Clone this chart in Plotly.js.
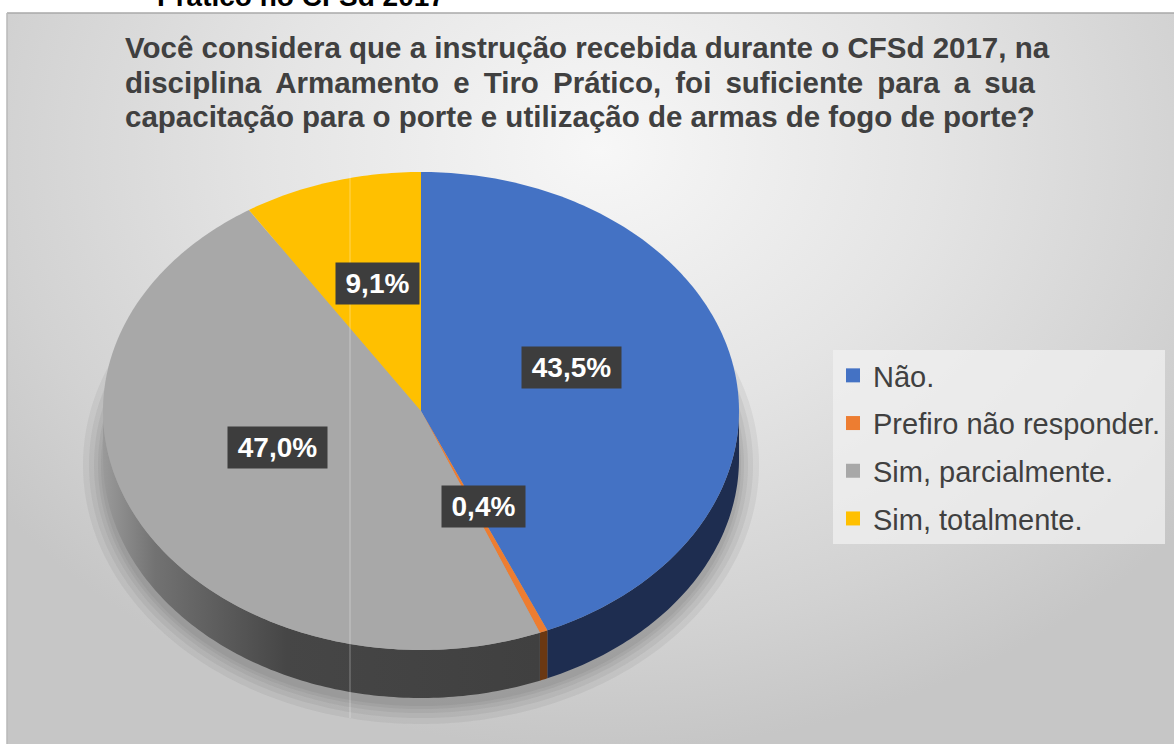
<!DOCTYPE html>
<html><head><meta charset="utf-8">
<script src="https://cdn.plot.ly/plotly-3.0.1.min.js"></script>
<style>html,body{margin:0;padding:0;background:#fff;}#chart{width:1174px;height:744px;}</style>
</head><body><div id="chart"></div>
<script>
// ---- data ----
const categories = ['Não.', 'Prefiro não responder.', 'Sim, parcialmente.', 'Sim, totalmente.'];
const values = [43.5, 0.4, 47.0, 9.1];
const valueLabels = ['43,5%', '0,4%', '47,0%', '9,1%'];
const titleLines = [
  'Você considera que a instrução recebida durante o CFSd 2017, na',
  'disciplina Armamento e Tiro Prático, foi suficiente para a sua',
  'capacitação para o porte e utilização de armas de fogo de porte?'
];
const cutText = 'Prático no CFSd 2017';

// ---- styles / layout ----
const topColors = ['#4472c4', '#ed7d31', '#a8a8a8', '#ffc000'];
const sideColors = ['#1e2d50', '#6b3812', '#454545', '#7a5c00'];
const labelPos = [[571, 367], [483, 506], [277, 447], [377, 283]];
const W = 1174, H = 744, ML = 7, MT = 13;
const CX = 421, CY = 411, RX = 318, RY = 239, DEPTH = 48;

function pt(th, dy, ex) {
  ex = ex || 0;
  return [CX + (RX + ex) * Math.sin(th), CY - (RY + ex) * Math.cos(th) + (dy || 0)];
}
function arc(a, b, dy, ex) {
  const n = Math.max(4, Math.ceil((b - a) / (Math.PI * 2) * 400));
  const xs = [], ys = [];
  for (let i = 0; i <= n; i++) {
    const p = pt(a + (b - a) * i / n, dy, ex);
    xs.push(p[0]); ys.push(p[1]);
  }
  return [xs, ys];
}

const total = values.reduce((s, v) => s + v, 0);
const angles = [];
let acc = 0;
values.forEach(v => { const a = acc / total * 2 * Math.PI; acc += v; angles.push([a, acc / total * 2 * Math.PI]); });

const traces = [];
// background gradient
traces.push({
  type: 'scatter', mode: 'none', fill: 'toself',
  x: [-150, 1350, 1350, -150, -150], y: [-450, -450, 750, 750, -450],
  fillgradient: { type: 'radial', colorscale: [[0, '#f7f7f7'], [0.45, '#e4e4e4'], [0.8, '#d2d2d2'], [1, '#c6c6c6']] },
  hoverinfo: 'skip', showlegend: false
});
// soft shadow
[20, 14, 9, 5, 2].forEach(ex => {
  const a = arc(0, 2 * Math.PI, DEPTH + 6, ex);
  traces.push({ type: 'scatter', mode: 'none', fill: 'toself', x: a[0], y: a[1],
    fillcolor: 'rgba(60,60,60,0.07)', hoverinfo: 'skip', showlegend: false });
});
// side faces
angles.forEach((ab, i) => {
  const lo = Math.max(ab[0], Math.PI / 2), hi = Math.min(ab[1], 3 * Math.PI / 2);
  if (lo >= hi) return;
  const t = arc(lo, hi, 0), b = arc(lo, hi, DEPTH);
  const xs = t[0].concat(b[0].slice().reverse()), ys = t[1].concat(b[1].slice().reverse());
  xs.push(xs[0]); ys.push(ys[0]);
  const tr = { type: 'scatter', mode: 'none', fill: 'toself', x: xs, y: ys,
    fillcolor: sideColors[i], hoverinfo: 'skip', showlegend: false };
  if (i === 2) tr.fillgradient = { type: 'horizontal',
    colorscale: [[0, '#9a9a9a'], [0.12, '#727272'], [0.42, '#464646'], [1, '#404040']] };
  traces.push(tr);
});
// top faces
angles.forEach((ab, i) => {
  const a = arc(ab[0], ab[1], 0);
  const xs = [CX].concat(a[0], [CX]), ys = [CY].concat(a[1], [CY]);
  traces.push({ type: 'scatter', mode: 'none', fill: 'toself', x: xs, y: ys,
    fillcolor: topColors[i], hoverinfo: 'skip', showlegend: false, name: categories[i] });
});
// legend entries
categories.forEach((c, i) => {
  traces.push({ type: 'scatter', mode: 'markers', x: [-1000], y: [-1000], name: c,
    legendgroup: 'g' + i,
    marker: { symbol: 'square', size: 14, color: topColors[i] }, hoverinfo: 'skip' });
});

const annotations = [];
annotations.push({ xref: 'x', yref: 'paper', x: 155, y: 1 + (MT - 14) / (H - MT), xanchor: 'left', yanchor: 'bottom',
  text: '<b>' + cutText + '</b>', showarrow: false,
  font: { family: 'Liberation Sans, Arial, sans-serif', size: 28, color: '#000' } });
const titleY = [47, 82, 116];
const pads = ['', '\u2009', ''];
titleLines.forEach((l, i) => {
  let txt = l;
  if (pads[i]) txt = l.split(' ').join(' ' + pads[i]);
  annotations.push({ xref: 'x', yref: 'y', x: 123, y: titleY[i], xanchor: 'left', yanchor: 'middle',
    text: '<b>' + txt + '</b>', showarrow: false,
    font: { family: 'Liberation Sans, Arial, sans-serif', size: 29.5, color: '#404040' } });
});
valueLabels.forEach((t, i) => {
  annotations.push({ xref: 'x', yref: 'y', x: labelPos[i][0], y: labelPos[i][1],
    xanchor: 'center', yanchor: 'middle', text: '<b>' + t + '</b>', showarrow: false,
    bgcolor: '#3d3d3d', borderpad: 2, width: t.length > 4 ? 95 : 79, height: 37,
    font: { family: 'Liberation Sans, Arial, sans-serif', size: 28, color: '#ffffff' } });
});

const layout = {
  width: W, height: H, autosize: false,
  margin: { l: ML, t: MT, r: 0, b: 0, pad: 0 },
  paper_bgcolor: '#ffffff', plot_bgcolor: 'rgba(0,0,0,0)',
  xaxis: { range: [ML, W], visible: false, fixedrange: true },
  yaxis: { range: [H, MT], visible: false, fixedrange: true },
  showlegend: true,
  legend: {
    x: (833 - ML) / (W - ML), y: 1 - (350 - MT) / (H - MT), xanchor: 'left', yanchor: 'top',
    bgcolor: 'rgba(240,240,240,0.75)', borderwidth: 0, traceorder: 'grouped', tracegroupgap: 7,
    font: { family: 'Liberation Sans, Arial, sans-serif', size: 29, color: '#404040' }
  },
  annotations: annotations,
  shapes: [
    { type: 'line', xref: 'paper', yref: 'paper', x0: 0, x1: 1, y0: 1, y1: 1, line: { color: '#a8a8a8', width: 1.5 } },
    { type: 'line', xref: 'paper', yref: 'paper', x0: 0, x1: 0, y0: 0, y1: 1, line: { color: '#b8b8b8', width: 1.5 } },
    { type: 'line', xref: 'x', yref: 'y', x0: 350, x1: 350, y0: 172, y1: 718, layer: 'above',
      line: { color: 'rgba(255,255,255,0.35)', width: 1 } }
  ],
  hovermode: false
};
Plotly.newPlot('chart', traces, layout, { displayModeBar: false, staticPlot: true });
</script>
</body></html>
